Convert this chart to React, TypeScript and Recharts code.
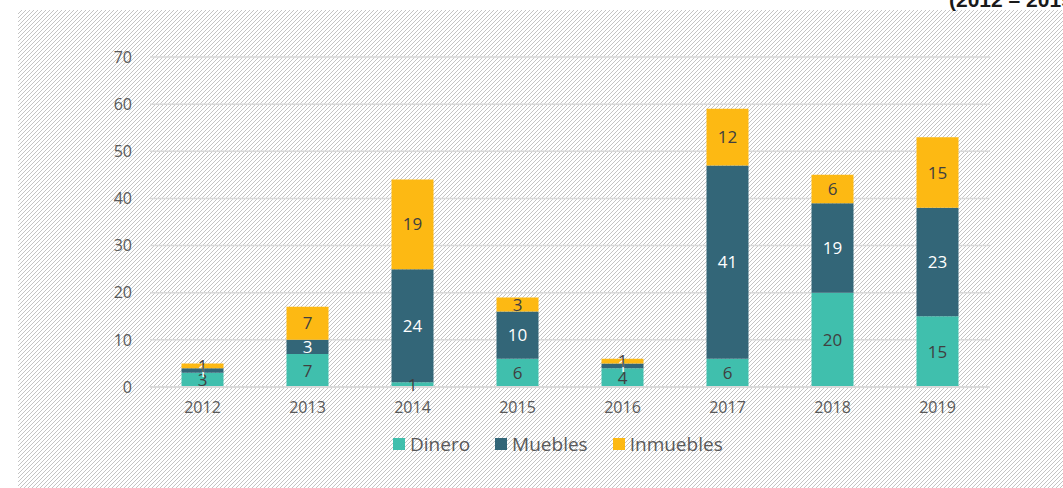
import React from 'react';
import { BarChart, Bar, XAxis, YAxis, CartesianGrid, LabelList } from 'recharts';

const YEARS = ['2012', '2013', '2014', '2015', '2016', '2017', '2018', '2019'];
const DINERO = [3, 7, 1, 6, 4, 6, 20, 15];
const MUEBLES = [1, 3, 24, 10, 1, 41, 19, 23];
const INMUEBLES = [1, 7, 19, 3, 1, 12, 6, 15];
const Y_TICKS = [0, 10, 20, 30, 40, 50, 60, 70];

const SERIES = [
  { key: 'Dinero', color: '#40BFAD', label: '#404040' },
  { key: 'Muebles', color: '#336678', label: '#ffffff' },
  { key: 'Inmuebles', color: '#FDB913', label: '#404040' },
];

const data = YEARS.map((year, i) => ({
  year,
  Dinero: DINERO[i],
  Muebles: MUEBLES[i],
  Inmuebles: INMUEBLES[i],
}));

const FONT = '"Open Sans", "Liberation Sans", sans-serif';

const hatch =
  "url(\"data:image/svg+xml;utf8,<svg xmlns='http://www.w3.org/2000/svg' width='4' height='4'><path d='M-1,1 l2,-2 M0,4 l4,-4 M3,5 l2,-2' stroke='%23c4c4c4' stroke-width='1'/></svg>\")";

function LegendRow() {
  return (
    <div
      style={{
        position: 'absolute',
        top: 431,
        left: 393,
        display: 'flex',
        alignItems: 'center',
        fontFamily: FONT,
        fontSize: 19,
        color: '#595959',
      }}
    >
      {SERIES.map((s) => (
        <div key={s.key} style={{ display: 'flex', alignItems: 'center', marginRight: 25 }}>
          <div style={{ width: 12, height: 12, background: s.color, marginRight: 5 }} />
          <span>{s.key}</span>
        </div>
      ))}
    </div>
  );
}

export default function App() {
  return (
    <div style={{ position: 'absolute', left: 0, top: 0, width: 1063, height: 488, background: '#fff', overflow: 'hidden' }}>
      <div style={{ position: 'absolute', left: 18, top: 10, right: 0, bottom: 0, backgroundImage: hatch }} />
      <div
        style={{
          position: 'absolute',
          left: 949,
          top: -12,
          fontFamily: '"Liberation Sans", Arial, sans-serif',
          fontWeight: 'bold',
          fontSize: 21,
          color: '#1a1a1a',
          whiteSpace: 'nowrap',
        }}
      >
        (2012 – 2019)
      </div>
      <div style={{ position: 'absolute', left: 0, top: 0 }}>
        <BarChart
          width={1063}
          height={488}
          data={data}
          margin={{ top: 57, right: 73, bottom: 71, left: 0 }}
          barCategoryGap="30%"
        >
          <CartesianGrid vertical={false} stroke="#d9d9d9" strokeWidth={1.5} />
          <XAxis
            dataKey="year"
            axisLine={{ stroke: '#d9d9d9', strokeWidth: 2 }}
            tickLine={false}
            tickSize={0}
            tickMargin={15}
            tick={{ fontSize: 16, fill: '#595959', fontFamily: FONT }}
          />
          <YAxis
            width={150}
            domain={[0, 70]}
            ticks={Y_TICKS}
            axisLine={false}
            tickLine={false}
            tickSize={0}
            tickMargin={18}
            tick={{ fontSize: 16, fill: '#595959', fontFamily: FONT }}
          />
          {SERIES.map((s) => (
            <Bar key={s.key} dataKey={s.key} stackId="a" fill={s.color} isAnimationActive={false}>
              <LabelList
                dataKey={s.key}
                position="center"
                fill={s.label}
                style={{ fontSize: 17, fontFamily: FONT }}
              />
            </Bar>
          ))}
        </BarChart>
      </div>
      <LegendRow />
    </div>
  );
}
